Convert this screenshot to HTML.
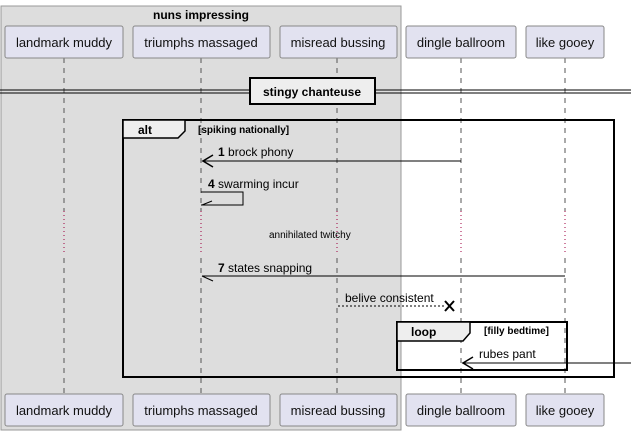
<!DOCTYPE html>
<html><head><style>body{margin:0;background:#fff}svg{display:block}</style></head><body>
<svg width="631" height="435" xmlns="http://www.w3.org/2000/svg" font-family="Liberation Sans, sans-serif">
<rect x="1" y="6" width="400" height="424" fill="#dddddd" stroke="#999" stroke-width="1"/>
<text x="201" y="19" font-size="12" font-weight="bold" text-anchor="middle">nuns impressing</text>
<g stroke="#555" stroke-dasharray="5,5" stroke-width="1">
<line x1="64" y1="58" x2="64" y2="394"/><line x1="201" y1="58" x2="201" y2="394"/><line x1="337" y1="58" x2="337" y2="394"/><line x1="461" y1="58" x2="461" y2="394"/><line x1="565" y1="58" x2="565" y2="394"/>
</g>
<g fill="#dddddd"><rect x="60" y="211" width="8" height="43"/><rect x="197" y="211" width="8" height="43"/><rect x="333" y="211" width="8" height="43"/></g>
<g fill="#fff"><rect x="457" y="211" width="8" height="43"/><rect x="561" y="211" width="8" height="43"/></g>
<g stroke="#a00040" stroke-dasharray="1,3" stroke-width="1"><line x1="64" y1="211" x2="64" y2="254"/><line x1="201" y1="211" x2="201" y2="254"/><line x1="337" y1="211" x2="337" y2="254"/><line x1="461" y1="211" x2="461" y2="254"/><line x1="565" y1="211" x2="565" y2="254"/></g>
<g fill="#e2e2f0" stroke="#888" stroke-width="1">
<rect x="5" y="26" width="118" height="32" rx="2"/><rect x="133" y="26" width="137" height="32" rx="2"/><rect x="280" y="26" width="117" height="32" rx="2"/><rect x="406" y="26" width="110" height="32" rx="2"/><rect x="526" y="26" width="78" height="32" rx="2"/>
<rect x="5" y="394" width="118" height="32" rx="2"/><rect x="133" y="394" width="137" height="32" rx="2"/><rect x="280" y="394" width="117" height="32" rx="2"/><rect x="406" y="394" width="110" height="32" rx="2"/><rect x="526" y="394" width="78" height="32" rx="2"/>
</g>
<g font-size="13" text-anchor="middle" fill="#111">
<text x="64" y="47">landmark muddy</text><text x="201" y="47">triumphs massaged</text><text x="338" y="47">misread bussing</text><text x="461" y="47">dingle ballroom</text><text x="565" y="47">like gooey</text>
<text x="64" y="415">landmark muddy</text><text x="201" y="415">triumphs massaged</text><text x="338" y="415">misread bussing</text><text x="461" y="415">dingle ballroom</text><text x="565" y="415">like gooey</text>
</g>
<line x1="0" y1="90" x2="631" y2="90" stroke="#000"/><line x1="0" y1="93" x2="631" y2="93" stroke="#000"/>
<rect x="250" y="78" width="125" height="26" fill="#eee" stroke="#000" stroke-width="2"/>
<text x="312" y="96" font-size="12" font-weight="bold" text-anchor="middle">stingy chanteuse</text>
<rect x="123" y="120" width="491" height="257" fill="none" stroke="#000" stroke-width="2"/>
<path d="M123 120 H185 V131 L178 138 H123 Z" fill="#eee" stroke="#000" stroke-width="1.5"/>
<text x="138" y="134" font-size="12" font-weight="bold">alt</text>
<text x="198" y="133" font-size="10" font-weight="bold">[spiking nationally]</text>
<line x1="202" y1="161" x2="461" y2="161" stroke="#000"/>
<path d="M213 155 L203 161 L213 167" fill="none" stroke="#000" stroke-width="1.5"/>
<text x="218" y="156" font-size="12"><tspan font-weight="bold">1</tspan> brock phony</text>
<text x="208" y="188" font-size="12"><tspan font-weight="bold">4</tspan> swarming incur</text>
<path d="M201 192 H243 V205 H201" fill="none" stroke="#000"/><line x1="202" y1="205" x2="212" y2="201" stroke="#000"/>
<text x="269" y="238" font-size="10">annihilated twitchy</text>
<text x="218" y="272" font-size="12"><tspan font-weight="bold">7</tspan> states snapping</text>
<line x1="202" y1="276" x2="565" y2="276" stroke="#000"/><line x1="202" y1="276" x2="213" y2="281" stroke="#000"/>
<text x="345" y="302" font-size="12">belive consistent</text>
<line x1="338" y1="306" x2="446" y2="306" stroke="#000" stroke-dasharray="2,2"/>
<path d="M445 301 L454 311 M454 301 L445 311" stroke="#000" stroke-width="2"/>
<rect x="397" y="322" width="170" height="48" fill="none" stroke="#000" stroke-width="2"/>
<path d="M397 322 H470 V333 L463 341 H397 Z" fill="#eee" stroke="#000" stroke-width="1.5"/>
<text x="411" y="336" font-size="12" font-weight="bold">loop</text>
<text x="484" y="334" font-size="10" font-weight="bold">[filly bedtime]</text>
<text x="479" y="358" font-size="12">rubes pant</text>
<line x1="462" y1="363" x2="631" y2="363" stroke="#000"/>
<path d="M473 357 L463 363 L473 369" fill="none" stroke="#000" stroke-width="1.5"/>
</svg>
</body></html>
